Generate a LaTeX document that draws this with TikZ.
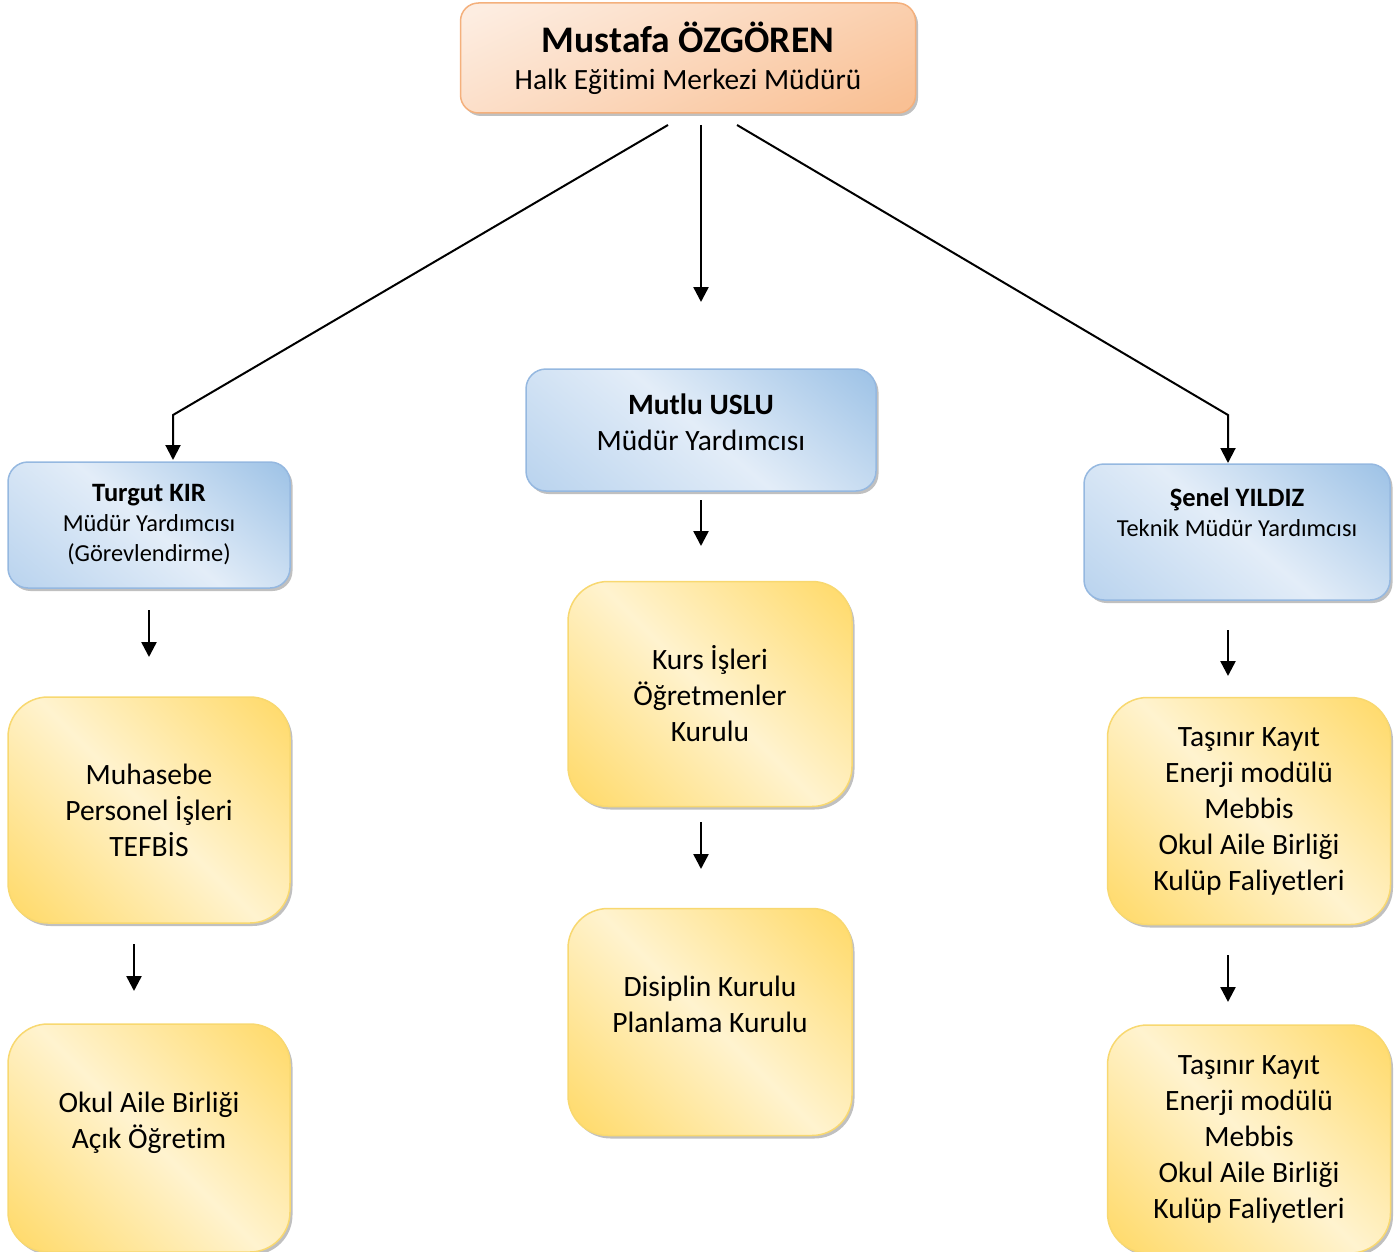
\documentclass[tikz,border=0pt]{standalone}
\usepackage{fontspec}
\setmainfont{Carlito}[RawFeature=-liga]
\usetikzlibrary{arrows.meta,shadows}
\definecolor{orL}{HTML}{FDEDE1}
\definecolor{orD}{HTML}{F9C094}
\definecolor{orB}{HTML}{F4B07C}
\definecolor{blL}{HTML}{E3EDF8}
\definecolor{blD}{HTML}{9DC2E6}
\definecolor{blM}{HTML}{B9D3EE}
\definecolor{blB}{HTML}{95B8E0}
\definecolor{yeL}{HTML}{FFF3CF}
\definecolor{yeD}{HTML}{FFD75E}
\definecolor{yeB}{HTML}{F8D870}
\newcommand\mynamefont{\fontsize{26.5}{30}\selectfont\bfseries}
\pgfdeclareverticalshading{oshade}{100bp}{color(0bp)=(orD); color(20bp)=(orD); color(55bp)=(orL!60!orD); color(80bp)=(orL); color(100bp)=(orL)}
\pgfdeclareverticalshading{bshade}{100bp}{color(0bp)=(blM); color(15bp)=(blM); color(50bp)=(blL); color(85bp)=(blD); color(100bp)=(blD)}
\pgfdeclareverticalshading{yshade}{100bp}{color(0bp)=(yeD); color(12bp)=(yeD); color(50bp)=(yeL); color(88bp)=(yeD); color(100bp)=(yeD)}
\tikzset{
  boxbase/.style={rounded corners=#1, align=center, inner sep=0pt,
    drop shadow={shadow xshift=2.5pt, shadow yshift=-3pt, fill=black!45, opacity=0.55}},
  orangebox/.style={boxbase=18pt, draw=orB, line width=1.5pt,
    shade, shading=oshade, shading angle=25},
  bluebox/.style={boxbase=20pt, draw=blB, line width=1.5pt,
    shade, shading=bshade, shading angle=-40},
  yellowbox/.style={boxbase=40pt, draw=yeB, line width=1.5pt,
    shade, shading=yshade, shading angle=-45},
  bodytext/.style={font=\fontsize{29.5}{36}\selectfont},
  smalltext/.style={font=\fontsize{24.4}{30}\selectfont},
  arr/.style={line width=2.5pt, -{Triangle[length=15pt,width=15pt]}},
  diag/.style={line width=2pt, -{Triangle[length=15pt,width=15pt]}, line join=miter}
}
\begin{document}
\begin{tikzpicture}[x=1pt,y=-1pt]
\useasboundingbox (0,0) rectangle (1395,1252);
% boxes
\node[orangebox, minimum width=455pt, minimum height=110pt,
  font=\fontsize{29.4}{37}\selectfont] (top) at (688,58)
  {{\fontsize{37.5}{37}\selectfont\bfseries Mustafa ÖZGÖREN}\\Halk Eğitimi Merkezi Müdürü};
\node[bluebox, minimum width=282pt, minimum height=126pt, smalltext] (turgut) at (149,525)
  {{\mynamefont Turgut KIR}\\Müdür Yardımcısı\\(Görevlendirme)};
\node[bluebox, minimum width=350pt, minimum height=122pt, bodytext] (mutlu) at (701,430)
  {\textbf{Mutlu USLU}\\Müdür Yardımcısı\\[-20pt]\mbox{}};
\node[bluebox, minimum width=306pt, minimum height=136pt, smalltext] (senel) at (1237,532)
  {{\mynamefont Şenel YILDIZ}\\Teknik Müdür Yardımcısı\\[10pt]\mbox{}};
\node[yellowbox, minimum width=282pt, minimum height=226pt, bodytext] (muhasebe) at (149,810)
  {Muhasebe\\Personel İşleri\\TEFBİS};
\node[yellowbox, minimum width=282pt, minimum height=228pt, bodytext] (okul) at (149,1138)
  {Okul Aile Birliği\\Açık Öğretim\\\mbox{}};
\node[yellowbox, minimum width=284pt, minimum height=225pt, bodytext] (kurs) at (710,694)
  {Kurs İşleri\\Öğretmenler\\Kurulu};
\node[yellowbox, minimum width=284pt, minimum height=227pt, bodytext] (disiplin) at (710,1022)
  {Disiplin Kurulu\\Planlama Kurulu\\\mbox{}};
\node[yellowbox, minimum width=283pt, minimum height=227pt, bodytext] (tas1) at (1249,811)
  {Taşınır Kayıt\\Enerji modülü\\Mebbis\\Okul Aile Birliği\\Kulüp Faliyetleri};
\node[yellowbox, minimum width=283pt, minimum height=228pt, bodytext] (tas2) at (1249,1139)
  {Taşınır Kayıt\\Enerji modülü\\Mebbis\\Okul Aile Birliği\\Kulüp Faliyetleri};
% connector coordinates
\coordinate (l1) at (668,125);
\coordinate (l2) at (173,415);
\coordinate (l3) at (173,460);
\coordinate (m1) at (701,125);
\coordinate (m2) at (701,302);
\coordinate (r1) at (737,125);
\coordinate (r2) at (1228,415);
\coordinate (r3) at (1228,463);
\coordinate (a1) at (149,610);  \coordinate (a2) at (149,657);
\coordinate (b1) at (134,944);  \coordinate (b2) at (134,991);
\coordinate (c1) at (701,500);  \coordinate (c2) at (701,546);
\coordinate (d1) at (701,822);  \coordinate (d2) at (701,869);
\coordinate (e1) at (1228,630); \coordinate (e2) at (1228,676);
\coordinate (f1) at (1228,955); \coordinate (f2) at (1228,1002);
% connectors
\draw[diag] (l1) -- (l2) -- (l3);
\draw[arr] (m1) -- (m2);
\draw[diag] (r1) -- (r2) -- (r3);
\draw[arr] (a1) -- (a2);
\draw[arr] (b1) -- (b2);
\draw[arr] (c1) -- (c2);
\draw[arr] (d1) -- (d2);
\draw[arr] (e1) -- (e2);
\draw[arr] (f1) -- (f2);
\end{tikzpicture}
\end{document}
